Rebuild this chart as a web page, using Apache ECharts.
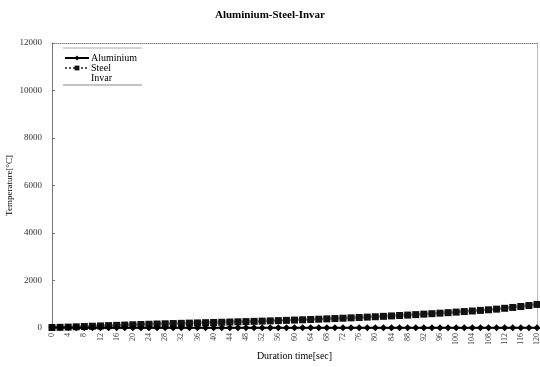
<!DOCTYPE html>
<html>
<head>
<meta charset="utf-8">
<title>Aluminium-Steel-Invar</title>
<script src="https://cdn.jsdelivr.net/npm/echarts@6/dist/echarts.min.js"></script>
<style>
  html, body { margin: 0; padding: 0; background: #fff; }
  #chart { width: 540px; height: 367px; }
</style>
</head>
<body>
<div id="chart"></div>
<script>
// Sample times, every 2 seconds
const timeSec = [0,2,4,6,8,10,12,14,16,18,20,22,24,26,28,30,32,34,36,38,40,42,44,46,48,50,52,54,56,58,60,
  62,64,66,68,70,72,74,76,78,80,82,84,86,88,90,92,94,96,98,100,102,104,106,108,110,112,114,116,118,120];

// Temperatures in °C
const aluminium = [20,18,16,15,14,14,13,13,12,12,12,12,11,11,11,11,10,10,10,10,10,10,10,9,9,9,9,9,9,9,9,
  9,9,9,9,9,8,8,8,8,8,8,8,8,8,8,8,8,8,8,8,8,8,8,8,8,8,8,8,8,8];
const steel = [20,28,38,50,62,75,88,100,112,124,136,147,158,168,178,188,197,206,215,224,233,242,251,260,270,280,290,300,311,322,334,
  346,358,371,384,398,412,427,442,458,474,491,508,526,544,563,583,603,624,646,669,692,716,741,767,794,830,865,905,948,992];
const invar = [20,30,42,55,68,82,95,108,120,132,144,155,166,176,186,196,205,214,223,232,241,250,259,268,278,288,298,309,320,331,343,
  355,367,380,393,407,421,436,451,467,483,500,517,535,553,572,592,612,633,655,678,701,725,750,776,803,838,873,912,955,1000];

const yTicks = [0, 2000, 4000, 6000, 8000, 10000, 12000];

const serif = 'Liberation Serif, DejaVu Serif, serif';
const pair = (arr) => timeSec.map((t, i) => [t, arr[i]]);

const chart = echarts.init(document.getElementById('chart'), null, { renderer: 'canvas' });
chart.setOption({
  animation: false,
  backgroundColor: '#fff',
  title: {
    text: 'Aluminium-Steel-Invar',
    left: 'center',
    top: 5,
    textStyle: { fontFamily: serif, fontSize: 11, fontWeight: 'bold', color: '#000' }
  },
  legend: {
    orient: 'vertical',
    left: 64,
    top: 53,
    itemWidth: 24,
    itemHeight: 6,
    itemGap: 0,
    padding: 0,
    textStyle: { fontFamily: serif, fontSize: 10, lineHeight: 9, color: '#000', padding: [0, 0, 0, -3] },
    data: [
      { name: 'Aluminium' },
      { name: 'Steel' },
      { name: 'Invar', itemStyle: { opacity: 0 }, lineStyle: { opacity: 0 } }
    ]
  },
  graphic: [
    { type: 'line', shape: { x1: 63, y1: 48, x2: 142, y2: 48 }, style: { stroke: '#aaa', lineWidth: 1 } },
    { type: 'line', shape: { x1: 63, y1: 85, x2: 142, y2: 85 }, style: { stroke: '#888', lineWidth: 1 } }
  ],
  grid: { left: 52, right: 3, top: 43, bottom: 39, outerBoundsMode: 'none', containLabel: false },
  xAxis: [{
    type: 'value',
    min: 0,
    max: 120,
    interval: 4,
    name: 'Duration time[sec]',
    nameLocation: 'middle',
    nameGap: 23,
    nameMoveOverlap: false,
    nameTextStyle: { fontFamily: serif, fontSize: 10, color: '#000' },
    axisLine: { show: true, lineStyle: { color: '#888' } },
    axisTick: { show: false },
    splitLine: { show: false },
    axisLabel: { rotate: 90, fontFamily: serif, fontSize: 8, color: '#444', margin: 5 }
  }, {
    type: 'value',
    position: 'top',
    min: 0,
    max: 120,
    axisLine: { show: true, onZero: false, lineStyle: { color: '#888', type: 'dotted' } },
    axisTick: { show: false },
    axisLabel: { show: false },
    splitLine: { show: false }
  }],
  yAxis: [{
    type: 'value',
    min: yTicks[0],
    max: yTicks[yTicks.length - 1],
    interval: 2000,
    name: 'Temperature[°C]',
    nameLocation: 'middle',
    nameGap: 38,
    nameMoveOverlap: false,
    nameTextStyle: { fontFamily: serif, fontSize: 9, color: '#000' },
    axisLine: { show: true, lineStyle: { color: '#777' } },
    axisTick: { show: true, inside: true, length: 3, lineStyle: { color: '#777' } },
    splitLine: { show: false },
    axisLabel: { fontFamily: serif, fontSize: 9, color: '#333', margin: 10, formatter: (v) => String(v) }
  }, {
    type: 'value',
    position: 'right',
    min: yTicks[0],
    max: yTicks[yTicks.length - 1],
    axisLine: { show: true, onZero: false, lineStyle: { color: '#aaa', type: 'dotted' } },
    axisTick: { show: false },
    axisLabel: { show: false },
    splitLine: { show: false }
  }],
  series: [
    {
      name: 'Invar',
      type: 'line',
      data: pair(invar),
      symbol: 'none',
      lineStyle: { color: '#999', width: 3 },
      itemStyle: { color: '#999' },
      z: 1
    },
    {
      name: 'Steel',
      type: 'line',
      data: pair(steel),
      symbol: 'rect',
      symbolSize: 7,
      lineStyle: { color: '#555', width: 1, type: 'dotted' },
      itemStyle: { color: '#111' },
      z: 2
    },
    {
      name: 'Aluminium',
      type: 'line',
      data: pair(aluminium),
      symbol: 'diamond',
      symbolSize: 7,
      lineStyle: { color: '#000', width: 2 },
      itemStyle: { color: '#000' },
      z: 3
    }
  ]
});
</script>
</body>
</html>
